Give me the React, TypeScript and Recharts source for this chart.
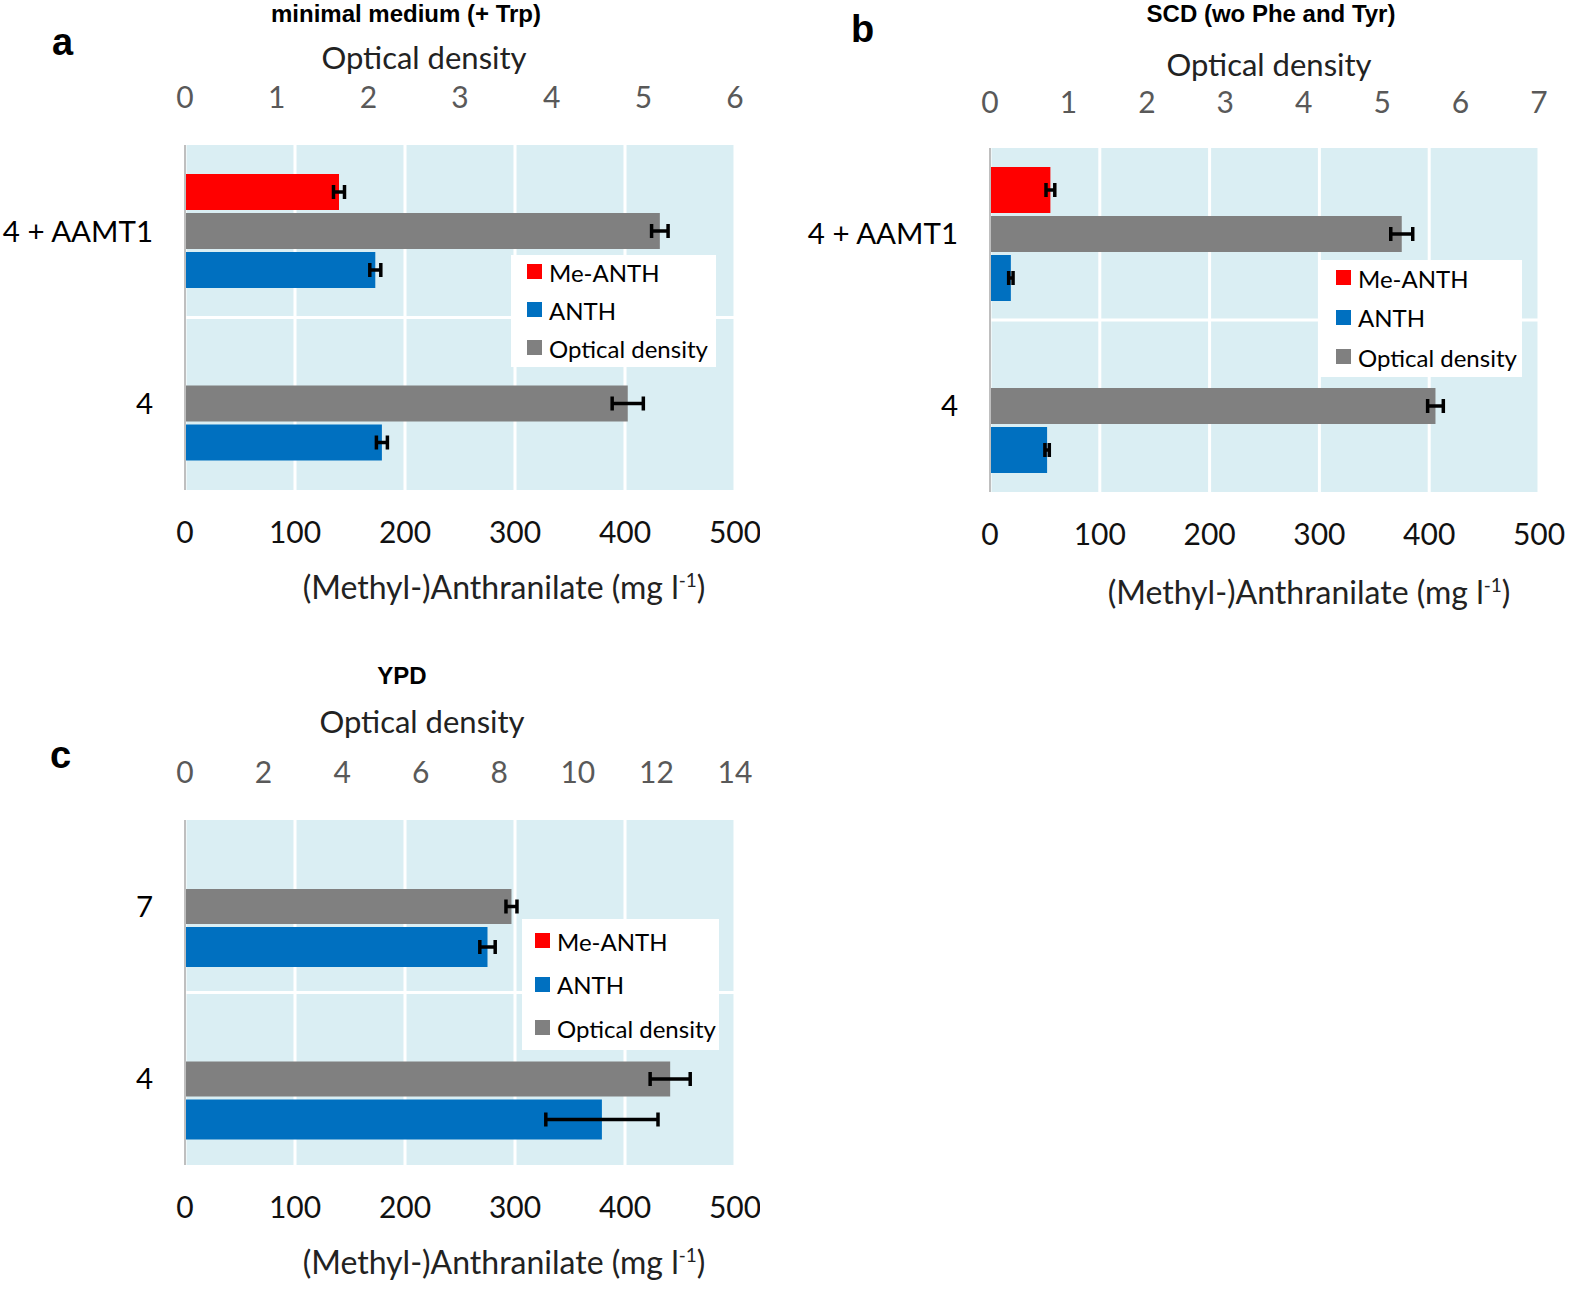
import React from "react";
import { BarChart, Bar, XAxis, YAxis, CartesianGrid, ErrorBar, Legend } from "recharts";

const FONT = "Lato, 'Open Sans', sans-serif";
const TITLE_FONT = "'Liberation Sans', Arial, sans-serif";
const RED = "#FF0000";
const BLUE = "#0070C0";
const GRAY = "#808080";

// panel a: minimal medium (+ Trp)
const categoriesA = ["4 + AAMT1", "4"];
const meAnthA = [140, null];
const meAnthErrA = [5, null];
const odA = [5.18, 4.83];
const odErrA = [0.09, 0.17];
const anthA = [173, 179];
const anthErrA = [5, 5];
const odTicksA = [0, 1, 2, 3, 4, 5, 6];

// panel b: SCD (wo Phe and Tyr)
const categoriesB = ["4 + AAMT1", "4"];
const meAnthB = [55, null];
const meAnthErrB = [4, null];
const odB = [5.25, 5.68];
const odErrB = [0.14, 0.1];
const anthB = [19, 52];
const anthErrB = [2, 2];
const odTicksB = [0, 1, 2, 3, 4, 5, 6, 7];

// panel c: YPD
const categoriesC = ["7", "4"];
const meAnthC = [null, null];
const meAnthErrC = [null, null];
const odC = [8.31, 12.35];
const odErrC = [0.14, 0.51];
const anthC = [275, 379];
const anthErrC = [7, 51];
const odTicksC = [0, 2, 4, 6, 8, 10, 12, 14];

const concTicks = [0, 100, 200, 300, 400, 500];
const legendNames = ["Me-ANTH", "ANTH", "Optical density"];
const legendColors = [RED, BLUE, GRAY];

const LegendBox = ({ width, height, rowTop, rowGap, squareLeft, fontSize }) => (
    <div style={{ position: "relative", width, height, background: "#fff" }}>
        {legendNames.map((name, i) => (
            <div
                key={name}
                style={{
                    position: "absolute",
                    left: squareLeft,
                    top: rowTop + i * rowGap - fontSize * 0.6,
                    height: fontSize * 1.2,
                    display: "flex",
                    alignItems: "center",
                    whiteSpace: "nowrap",
                    fontFamily: FONT,
                    fontSize,
                    color: "#000"
                }}
            >
                <span style={{ display: "inline-block", width: 15, height: 15, background: legendColors[i], marginRight: 7 }} />
                {name}
            </div>
        ))}
    </div>
);

const Panel = (props) => {
    const {
        left, top, width, height, margin, categories,
        meAnth, meAnthErr, od, odErr, anth, anthErr,
        odTicks, odTickMargin, sizes, legend
    } = props;

    const rows = categories.map((name, i) => ({
        name,
        meAnth: meAnth[i],
        meAnthErr: meAnthErr[i],
        od: od[i],
        odErr: odErr[i],
        anth: anth[i],
        anthErr: anthErr[i]
    }));

    return (
        <div style={{ position: "absolute", left, top }}>
            <BarChart width={width} height={height} data={rows} layout="vertical" margin={margin} barGap={3}>
                <CartesianGrid
                    xAxisId="conc"
                    yAxisId="cat"
                    fill="#DAEEF3"
                    fillOpacity={1}
                    stroke="#FFFFFF"
                    strokeWidth={3}
                    horizontalCoordinatesGenerator={({ offset }) => [offset.top + offset.height / 2]}
                />
                <XAxis
                    xAxisId="od"
                    orientation="top"
                    type="number"
                    domain={[0, odTicks[odTicks.length - 1]]}
                    ticks={odTicks}
                    interval={0}
                    axisLine={false}
                    tickLine={false}
                    tickSize={0}
                    tickMargin={odTickMargin}
                    height={50}
                    tick={{ fill: "#595959", fontSize: 30, fontFamily: FONT }}
                />
                <XAxis
                    xAxisId="conc"
                    orientation="bottom"
                    type="number"
                    domain={[0, 500]}
                    ticks={concTicks}
                    interval={0}
                    axisLine={false}
                    tickLine={false}
                    tickSize={0}
                    tickMargin={32}
                    height={50}
                    tick={{ fill: "#111", fontSize: 30, fontFamily: FONT }}
                />
                <YAxis
                    yAxisId="cat"
                    type="category"
                    dataKey="name"
                    width={180}
                    axisLine={{ stroke: "#BFBFBF", strokeWidth: 2 }}
                    tickLine={false}
                    tickSize={0}
                    tickMargin={32}
                    tick={{ fill: "#000", fontSize: 29.5, fontFamily: FONT }}
                />
                <Bar xAxisId="conc" yAxisId="cat" dataKey="meAnth" name="Me-ANTH" fill={RED} barSize={sizes[0]} isAnimationActive={false}>
                    <ErrorBar dataKey="meAnthErr" direction="x" width={7} stroke="#000" strokeWidth={3.5} isAnimationActive={false} />
                </Bar>
                <Bar xAxisId="od" yAxisId="cat" dataKey="od" name="Optical density" fill={GRAY} barSize={sizes[1]} isAnimationActive={false}>
                    <ErrorBar dataKey="odErr" direction="x" width={7} stroke="#000" strokeWidth={3.5} isAnimationActive={false} />
                </Bar>
                <Bar xAxisId="conc" yAxisId="cat" dataKey="anth" name="ANTH" fill={BLUE} barSize={sizes[2]} isAnimationActive={false}>
                    <ErrorBar dataKey="anthErr" direction="x" width={7} stroke="#000" strokeWidth={3.5} isAnimationActive={false} />
                </Bar>
                <Legend
                    layout="vertical"
                    align="center"
                    verticalAlign="middle"
                    wrapperStyle={{ left: legend.left, top: legend.top, width: legend.width, height: legend.height }}
                    content={() => <LegendBox {...legend} />}
                />
            </BarChart>
        </div>
    );
};

const Sup = () => (
    <>
        <tspan dy={-12} fontSize={19}>-1</tspan>
        <tspan dy={12}>)</tspan>
    </>
);

export default function App() {
    return (
        <div style={{ position: "absolute", left: 0, top: 0, width: 1594, height: 1304, background: "#fff" }}>
            <svg width={1594} height={1304} style={{ position: "absolute", left: 0, top: 0 }}>
                <g fontFamily={TITLE_FONT} fontWeight="bold">
                    <text x={52} y={55} fontSize={38}>a</text>
                    <text x={851} y={42} fontSize={38}>b</text>
                    <text x={50} y={768} fontSize={38}>c</text>
                    <text x={406} y={22} fontSize={24} textAnchor="middle">minimal medium (+ Trp)</text>
                    <text x={1271} y={22} fontSize={24} textAnchor="middle">SCD (wo Phe and Tyr)</text>
                    <text x={402} y={684} fontSize={24} textAnchor="middle">YPD</text>
                </g>
                <g fontFamily={FONT} fill="#222" textAnchor="middle">
                    <text x={424} y={69} fontSize={31}>Optical density</text>
                    <text x={1269} y={76} fontSize={31}>Optical density</text>
                    <text x={422} y={733} fontSize={31}>Optical density</text>
                    <text x={504} y={599} fontSize={32}>(Methyl-)Anthranilate (mg l<Sup /></text>
                    <text x={1309} y={604} fontSize={32}>(Methyl-)Anthranilate (mg l<Sup /></text>
                    <text x={504} y={1274} fontSize={32}>(Methyl-)Anthranilate (mg l<Sup /></text>
                </g>
            </svg>
            <Panel
                left={0} top={0} width={760} height={620}
                margin={{ top: 95, right: 25, bottom: 80, left: 5 }}
                categories={categoriesA}
                meAnth={meAnthA} meAnthErr={meAnthErrA}
                od={odA} odErr={odErrA}
                anth={anthA} anthErr={anthErrA}
                odTicks={odTicksA}
                odTickMargin={37}
                sizes={[36, 36, 36]}
                legend={{ left: 511, top: 255, width: 205, height: 112, rowTop: 17, rowGap: 38, squareLeft: 16, fontSize: 24 }}
            />
            <Panel
                left={800} top={0} width={794} height={620}
                margin={{ top: 98, right: 55, bottom: 78, left: 10 }}
                categories={categoriesB}
                meAnth={meAnthB} meAnthErr={meAnthErrB}
                od={odB} odErr={odErrB}
                anth={anthB} anthErr={anthErrB}
                odTicks={odTicksB}
                odTickMargin={35}
                sizes={[46, 36, 46]}
                legend={{ left: 520, top: 260, width: 202, height: 117, rowTop: 18, rowGap: 39.5, squareLeft: 16, fontSize: 24 }}
            />
            <Panel
                left={0} top={650} width={760} height={654}
                margin={{ top: 120, right: 25, bottom: 89, left: 5 }}
                categories={categoriesC}
                meAnth={meAnthC} meAnthErr={meAnthErrC}
                od={odC} odErr={odErrC}
                anth={anthC} anthErr={anthErrC}
                odTicks={odTicksC}
                odTickMargin={37}
                sizes={[40, 35, 40]}
                legend={{ left: 522, top: 269, width: 197, height: 131, rowTop: 22, rowGap: 43.5, squareLeft: 13, fontSize: 24 }}
            />
        </div>
    );
}
